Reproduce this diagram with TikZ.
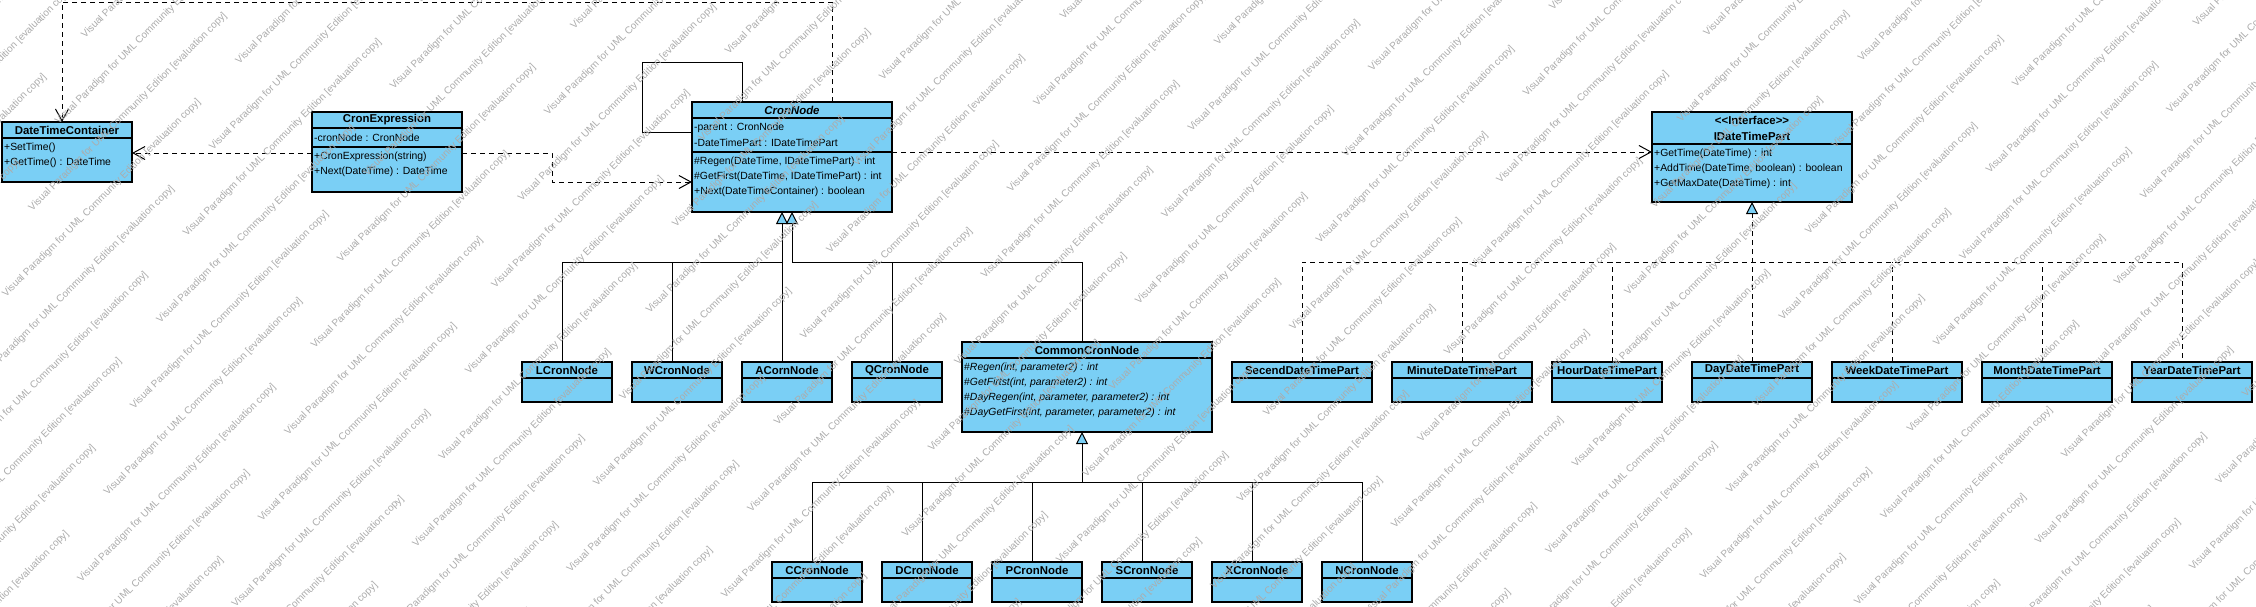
\documentclass[tikz,border=0pt]{standalone}
\usepackage{fontspec}
\setmainfont{Liberation Sans}
\usetikzlibrary{arrows.meta}
\definecolor{clsfill}{RGB}{122,207,245}
\definecolor{wmgray}{RGB}{172,172,172}
\newcommand\umlbox[7]{%
  \pgfmathsetmacro\ubw{#4-#2}\pgfmathsetmacro\ubh{#5-#3}%
  \node[cls, minimum width=\ubw pt, minimum height=\ubh pt] (#1) at (#2,#3) {};
  \pgfmathsetmacro\utx{(#2+#4)/2}\pgfmathsetmacro\uty{(#3+#7)/2}%
  \node[ttl] (#1-title) at (\utx,\uty) {#6};
  \draw[sep] (#2,#7) -- (#4,#7);
}
\begin{document}
\begin{tikzpicture}[x=1pt,y=-1pt,
  cls/.style={draw=black,line width=1.2pt,fill=clsfill,inner sep=0pt,outer sep=0pt,anchor=north west},
  ttl/.style={font=\fontsize{11.4}{16}\selectfont\bfseries,inner sep=0pt,align=center},
  mem/.style={font=\fontsize{10.4}{12}\selectfont,inner sep=0pt,anchor=west},
  sep/.style={line width=1.1pt},
  dep/.style={line width=1pt,dash pattern=on 5pt off 4pt,-{Straight Barb[length=12pt,width=13pt]}},
  assoc/.style={line width=1pt},
  genarr/.style={line width=1pt,-{Triangle[length=12pt,width=12pt,fill=clsfill]}},
  realarr/.style={line width=1pt,dash pattern=on 5pt off 4pt,-{Triangle[length=12pt,width=12pt,fill=clsfill]}},
  genline/.style={line width=1pt},
  realline/.style={line width=1pt,dash pattern=on 5pt off 4pt},
  wm/.style={font=\fontsize{10}{12}\selectfont,text=wmgray,inner sep=0pt,rotate=45}]
\fill[white] (0,0) rectangle (2256,606);
\useasboundingbox (0,0) rectangle (2256,606);

% ---------- classes ----------
\umlbox{dtc}{2}{122}{132}{182}{DateTimeContainer}{138}
\node[mem] (dtc-o1) at (4,148) {+SetTime()};
\node[mem] (dtc-o2) at (4,163) {+GetTime() : DateTime};

\umlbox{cexp}{312}{112}{462}{192}{CronExpression}{128}
\draw[sep] (312,147) -- (462,147);
\node[mem] (cexp-a1) at (314,138) {-cronNode : CronNode};
\node[mem] (cexp-o1) at (314,157) {+CronExpression(string)};
\node[mem] (cexp-o2) at (314,172) {+Next(DateTime) : DateTime};

\umlbox{cnode}{692}{102}{892}{212}{\itshape CronNode}{118}
\draw[sep] (692,152) -- (892,152);
\node[mem] (cnode-a1) at (694,128) {-parent : CronNode};
\node[mem] (cnode-a2) at (694,143) {-DateTimePart : IDateTimePart};
\node[mem] (cnode-o1) at (694,162) {\#Regen(DateTime, IDateTimePart) : int};
\node[mem] (cnode-o2) at (694,177) {\#GetFirst(DateTime, IDateTimePart) : int};
\node[mem] (cnode-o3) at (694,192) {+Next(DateTimeContainer) : boolean};

\umlbox{idtp}{1652}{112}{1852}{202}{<{}<Interface>{}>\\IDateTimePart}{144}
\node[mem] (idtp-o1) at (1654,154) {+GetTime(DateTime) : int};
\node[mem] (idtp-o2) at (1654,169) {+AddTime(DateTime, boolean) : boolean};
\node[mem] (idtp-o3) at (1654,184) {+GetMaxDate(DateTime) : int};

\umlbox{common}{962}{342}{1212}{432}{CommonCronNode}{358}
\node[mem] (common-o1) at (964,368) {\#\textit{Regen(int, parameter2) : int}};
\node[mem] (common-o2) at (964,383) {\#\textit{GetFirtst(int, parameter2) : int}};
\node[mem] (common-o3) at (964,398) {\#\textit{DayRegen(int, parameter, parameter2) : int}};
\node[mem] (common-o4) at (964,413) {\#\textit{DayGetFirst(int, parameter, parameter2) : int}};

\umlbox{lcron}{522}{362}{612}{402}{LCronNode}{378}
\umlbox{wcron}{632}{362}{722}{402}{WCronNode}{378}
\umlbox{acorn}{742}{362}{832}{402}{ACornNode}{378}
\umlbox{qcron}{852}{362}{942}{402}{QCronNode}{378}

\umlbox{ccron}{772}{562}{862}{602}{CCronNode}{578}
\umlbox{dcron}{882}{562}{972}{602}{DCronNode}{578}
\umlbox{pcron}{992}{562}{1082}{602}{PCronNode}{578}
\umlbox{scron}{1102}{562}{1192}{602}{SCronNode}{578}
\umlbox{xcron}{1212}{562}{1302}{602}{XCronNode}{578}
\umlbox{ncron}{1322}{562}{1412}{602}{NCronNode}{578}

\umlbox{secend}{1232}{362}{1372}{402}{SecendDateTimePart}{378}
\umlbox{minute}{1392}{362}{1532}{402}{MinuteDateTimePart}{378}
\umlbox{hour}{1552}{362}{1662}{402}{HourDateTimePart}{378}
\umlbox{day}{1692}{362}{1812}{402}{DayDateTimePart}{378}
\umlbox{week}{1832}{362}{1962}{402}{WeekDateTimePart}{378}
\umlbox{month}{1982}{362}{2112}{402}{MonthDateTimePart}{378}
\umlbox{year}{2132}{362}{2252}{402}{YearDateTimePart}{378}

% ---------- bend points ----------
\coordinate (k1) at (832,2);
\coordinate (k2) at (62,2);
\coordinate (k3) at (552,153);
\coordinate (k4) at (552,182);
\coordinate (k5) at (742,62);
\coordinate (k6) at (642,62);
\coordinate (k7) at (642,132);
\coordinate (k8) at (892,152);
\coordinate (k9) at (782,262);
\coordinate (k10) at (562,262);
\coordinate (k11) at (672,262);
\coordinate (k12) at (792,262);
\coordinate (k13) at (1082,262);
\coordinate (k14) at (892,262);
\coordinate (k15) at (1082,482);
\coordinate (k16) at (812,482);
\coordinate (k17) at (922,482);
\coordinate (k18) at (1032,482);
\coordinate (k19) at (1142,482);
\coordinate (k20) at (1252,482);
\coordinate (k21) at (1362,482);
\coordinate (k22) at (1752,262);
\coordinate (k23) at (1302,262);
\coordinate (k24) at (1462,262);
\coordinate (k25) at (1612,262);
\coordinate (k26) at (1892,262);
\coordinate (k27) at (2042,262);
\coordinate (k28) at (2182,262);

% ---------- connectors ----------
\draw[dep] (cnode.north -| k1) -- (k1) -- (k2) -- (dtc.north -| k2);
\draw[dep] (cexp.west |- k3) -- (dtc.east |- k3);
\draw[dep] (cexp.east |- k3) -- (k3) -- (k4) -- (cnode.west |- k4);
\draw[assoc] (cnode.north -| k5) -- (k5) -- (k6) -- (k7) -- (cnode.west |- k7);
\draw[dep] (cnode.east |- k8) -- (idtp.west |- k8);

\draw[genarr] (acorn.north -| k9) -- (cnode.south -| k9);
\draw[genline] (lcron.north -| k10) -- (k10) -- (k9);
\draw[genline] (wcron.north -| k11) -- (k11);
\draw[genarr] (common.north -| k13) -- (k13) -- (k12) -- (cnode.south -| k12);
\draw[genline] (qcron.north -| k14) -- (k14);

\draw[genarr] (k15) -- (common.south -| k15);
\draw[genline] (ccron.north -| k16) -- (k16) -- (k21) -- (ncron.north -| k21);
\draw[genline] (dcron.north -| k17) -- (k17);
\draw[genline] (pcron.north -| k18) -- (k18);
\draw[genline] (scron.north -| k19) -- (k19);
\draw[genline] (xcron.north -| k20) -- (k20);

\draw[realarr] (day.north -| k22) -- (idtp.south -| k22);
\draw[realline] (secend.north -| k23) -- (k23) -- (k28) -- (year.north -| k28);
\draw[realline] (minute.north -| k24) -- (k24);
\draw[realline] (hour.north -| k25) -- (k25);
\draw[realline] (week.north -| k26) -- (k26);
\draw[realline] (month.north -| k27) -- (k27);

% ---------- watermark ----------
\begin{scope}
\clip (0,0) rectangle (2256,606);
\foreach \j in {0,...,52}{
  \pgfmathsetmacro\wst{mod(\j*37,100)/100}
  \foreach \m in {-1,0,1,2,3}{
    \pgfmathsetmacro\wt{(\m+\wst)*330}
    \pgfmathsetmacro\wpx{\j*60-\wt*0.7071}
    \pgfmathsetmacro\wpy{\wt*0.7071}
    \node[wm] (wm-\j-\m) at (\wpx,\wpy) {Visual Paradigm for UML Community Edition [evaluation copy]};
  }
}
\end{scope}
\end{tikzpicture}
\end{document}
